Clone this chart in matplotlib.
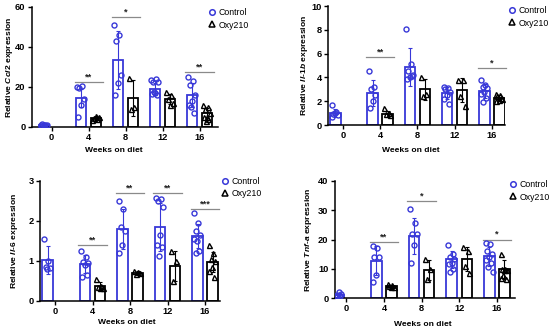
import numpy as np
import matplotlib
matplotlib.use("Agg")
import matplotlib.pyplot as plt
from matplotlib.lines import Line2D

plt.rcParams['font.family'] = ['Liberation Sans', 'DejaVu Sans']
plt.rcParams['mathtext.fontset'] = 'custom'
plt.rcParams['mathtext.it'] = 'Liberation Sans:bold:italic'
plt.rcParams['mathtext.rm'] = 'Liberation Sans:bold'
plt.rcParams['mathtext.bf'] = 'Liberation Sans:bold'

weeks = ['0', '4', '8', '12', '16']
BLUE = '#3838d8'

# ---- Ccl2 ----
ccl2_ctrl_mean = [1.0, 14.5, 33.5, 19.0, 16.0]
ccl2_ctrl_sd = [0.5, 4.5, 14.5, 3.0, 6.0]
ccl2_oxy_mean = [None, 4.5, 14.5, 14.0, 7.0]
ccl2_oxy_sd = [None, 1.0, 9.0, 2.5, 2.7]
ccl2_ctrl_pts = [[0.5, 1.0, 1.5, 0.8, 1.2, 1.0],
                 [20.0, 20.5, 19.5, 14.0, 11.0, 5.0],
                 [51.0, 46.0, 43.0, 26.0, 22.0, 16.0],
                 [23.5, 24.0, 22.5, 22.7, 17.0, 16.5, 16.0, 17.5],
                 [25.0, 23.0, 21.0, 16.0, 13.0, 11.0, 7.0, 10.0]]
ccl2_oxy_pts = [[],
                [3.5, 4.0, 4.5, 5.0, 5.5],
                [24.5, 10.0, 9.0],
                [17.5, 16.0, 14.0, 12.0, 11.0],
                [11.0, 10.0, 9.0, 7.0, 5.0, 5.0, 4.0, 3.0]]
ccl2_sig = [(1, 22.5, '**'), (2, 55.0, '*'), (4, 27.5, '**')]

# ---- Il-1b ----
il1b_ctrl_mean = [1.0, 2.7, 4.9, 2.7, 2.85]
il1b_ctrl_sd = [0.35, 1.1, 1.6, 0.5, 0.6]
il1b_oxy_mean = [None, 0.95, 3.0, 2.95, 2.3]
il1b_oxy_sd = [None, 0.25, 0.9, 1.0, 0.25]
il1b_ctrl_pts = [[1.7, 1.1, 0.9, 0.8, 1.0, 0.7],
                 [4.5, 3.2, 3.0, 2.5, 2.0, 1.4],
                 [8.1, 5.1, 4.5, 4.2, 4.0, 3.9, 4.1],
                 [3.2, 3.1, 3.0, 2.8, 2.5, 2.2, 1.8],
                 [3.8, 3.4, 3.2, 3.1, 2.8, 2.6, 2.3, 1.9]]
il1b_oxy_pts = [[],
                [1.4, 1.0, 0.9, 0.8],
                [4.0, 2.6, 2.4],
                [3.8, 3.8, 2.4, 1.6],
                [2.6, 2.5, 2.4, 2.2, 2.1, 2.0, 2.3]]
il1b_sig = [(1, 5.7, '**'), (4, 4.8, '*')]

# ---- Il-6 ----
il6_ctrl_mean = [1.03, 0.92, 1.8, 1.85, 1.62]
il6_ctrl_sd = [0.35, 0.22, 0.5, 0.6, 0.3]
il6_oxy_mean = [None, 0.38, 0.7, 0.87, 0.98]
il6_oxy_sd = [None, 0.1, 0.04, 0.37, 0.25]
il6_ctrl_pts = [[1.55, 1.0, 0.85, 0.82, 0.8],
                [1.25, 1.1, 0.98, 0.95, 0.9, 0.6, 0.65],
                [2.5, 2.3, 1.85, 1.75, 1.4, 1.2],
                [2.58, 2.55, 2.5, 2.35, 1.65, 1.4, 1.35, 1.12],
                [2.2, 1.95, 1.75, 1.65, 1.5, 1.55, 1.25, 1.2]]
il6_oxy_pts = [[],
               [0.55, 0.38, 0.35, 0.33, 0.32],
               [0.75, 0.72, 0.68, 0.7],
               [1.25, 1.0, 0.5],
               [1.4, 1.2, 1.05, 1.0, 0.85, 0.75, 0.6]]
il6_sig = [(1, 1.4, '**'), (2, 2.7, '**'), (3, 2.7, '**'), (4, 2.3, '***')]

# ---- Tnf-a ----
tnf_ctrl_mean = [1.0, 12.7, 21.3, 13.2, 14.3]
tnf_ctrl_sd = [0.6, 5.0, 6.1, 2.8, 3.3]
tnf_oxy_mean = [None, 4.0, 9.6, 13.3, 9.8]
tnf_oxy_sd = [None, 0.5, 3.5, 4.0, 3.2]
tnf_ctrl_pts = [[0.3, 0.6, 1.0, 1.5, 2.0, 0.8],
                [17.7, 17.0, 14.0, 14.0, 8.0, 5.5],
                [30.5, 25.5, 22.0, 22.0, 18.0, 12.0],
                [18.0, 15.0, 14.0, 13.5, 12.0, 11.5, 10.0, 9.0],
                [18.8, 18.5, 16.0, 15.0, 14.0, 13.0, 12.0, 10.5, 9.0]]
tnf_oxy_pts = [[],
               [4.8, 4.5, 4.2, 3.9, 3.7],
               [13.5, 10.0, 6.5],
               [17.5, 16.0, 11.0, 8.5],
               [15.0, 10.0, 10.0, 9.5, 9.5, 7.0, 6.5, 8.0]]
tnf_sig = [(1, 19.0, '**'), (2, 33.0, '*'), (4, 20.0, '*')]

W = 550; H = 331
fig = plt.figure(figsize=(W / 100, H / 100), dpi=100)

def px_ax(l, r, b, t):
    return fig.add_axes([l / W, 1 - b / H, (r - l) / W, (b - t) / H])

OFF = 0.2
BW = 0.28
FS_TICK = 6.7
FS_LAB = 6.1
FS_LEG = 6.3

def jitter(n):
    return np.array([((i * 0.618) % 1 - 0.5) * 0.2 for i in range(n)])

def panel(ax, box, cm, cs, om, osd, cp, op, sig, ymax, ystep, xlim, gene, ylab_px, xlab_px):
    l, r, b, t = box
    x = np.arange(len(weeks))
    for i in range(len(weeks)):
        xc = x[i] - OFF
        ax.bar(xc, cm[i], width=BW, facecolor='white', edgecolor=BLUE, linewidth=1.3, zorder=2)
        ax.errorbar(xc, cm[i], yerr=cs[i], color=BLUE, capsize=1.6, elinewidth=0.8, capthick=0.8, zorder=3)
        pts = np.array(cp[i])
        ax.plot(xc + jitter(len(pts)), pts, 'o', mfc='none', mec=BLUE, ms=3.6, mew=1.0, zorder=4)
        if om[i] is not None:
            xo = x[i] + OFF
            ax.bar(xo, om[i], width=BW, facecolor='white', edgecolor='black', linewidth=1.3, zorder=2)
            ax.errorbar(xo, om[i], yerr=osd[i], color='black', capsize=1.6, elinewidth=0.8, capthick=0.8, zorder=3)
            pts = np.array(op[i])
            ax.plot(xo + jitter(len(pts)), pts, '^', mfc='none', mec='black', ms=3.6, mew=1.0, zorder=4)
    for g, yv, s in sig:
        ax.plot([g - 0.38, g + 0.38], [yv, yv], color='#8a8a8a', lw=0.9, zorder=1, clip_on=False)
        ax.text(g, yv + ymax * 0.005, s, ha='center', va='bottom', fontsize=FS_TICK, fontweight='bold', color='#222222')
    ax.set_xlim(*xlim)
    ax.set_ylim(0, ymax)
    ax.set_yticks(np.arange(0, ymax + ystep / 2, ystep))
    ax.set_xticks(x)
    ax.set_xticklabels(weeks)
    for sp in ['top', 'right']:
        ax.spines[sp].set_visible(False)
    for sp in ['left', 'bottom']:
        ax.spines[sp].set_linewidth(1.1)
    ax.tick_params(axis='both', labelsize=FS_TICK, width=1.0, length=2.8, pad=1.8)
    for lab in ax.get_xticklabels() + ax.get_yticklabels():
        lab.set_fontweight('bold')
    ax.set_xlabel('Weeks on diet', fontsize=FS_LAB, fontweight='bold')
    ax.xaxis.set_label_coords((xlab_px[0] - l) / (r - l), -(xlab_px[1] - b) / (b - t))
    ax.xaxis.label.set_va('center')
    ax.set_ylabel(gene, fontsize=FS_LAB, fontweight='bold')
    ax.yaxis.set_label_coords((ylab_px - l) / (r - l), 0.5)
    ax.yaxis.label.set_va('center')

def legend(xm, y1):
    handles = [Line2D([], [], marker='o', ls='none', mfc='none', mec=BLUE, ms=4.0, mew=1.1),
               Line2D([], [], marker='^', ls='none', mfc='none', mec='black', ms=4.2, mew=1.1)]
    fig.legend(handles, ['Control', 'Oxy210'], loc='upper left',
               bbox_to_anchor=((xm - 5) / W, 1 - (y1 - 6) / H),
               frameon=False, fontsize=FS_LEG, handlelength=0.8, handletextpad=0.45,
               labelspacing=0.4, borderaxespad=0, borderpad=0)

box1 = (32, 218, 127, 7)
ax1 = px_ax(*box1)
panel(ax1, box1, ccl2_ctrl_mean, ccl2_ctrl_sd, ccl2_oxy_mean, ccl2_oxy_sd, ccl2_ctrl_pts, ccl2_oxy_pts,
      ccl2_sig, 60, 20, (-0.53, 4.5), r'Relative $\mathit{Ccl2}$ expression', 10, (114, 150))
legend(213, 14)

box2 = (328, 505, 125, 6)
ax2 = px_ax(*box2)
panel(ax2, box2, il1b_ctrl_mean, il1b_ctrl_sd, il1b_oxy_mean, il1b_oxy_sd, il1b_ctrl_pts, il1b_oxy_pts,
      il1b_sig, 10, 2, (-0.4, 4.35), r'Relative $\mathit{Il}$-$\mathit{1b}$ expression', 305, (411, 150))
legend(513, 12)

box3 = (40, 220, 301, 181)
ax3 = px_ax(*box3)
panel(ax3, box3, il6_ctrl_mean, il6_ctrl_sd, il6_oxy_mean, il6_oxy_sd, il6_ctrl_pts, il6_oxy_pts,
      il6_sig, 3, 1, (-0.4, 4.4), r'Relative $\mathit{Il}$-$\mathit{6}$ expression', 15, (127, 323))
legend(226, 183)

box4 = (335, 515, 298, 181)
ax4 = px_ax(*box4)
panel(ax4, box4, tnf_ctrl_mean, tnf_ctrl_sd, tnf_oxy_mean, tnf_oxy_sd, tnf_ctrl_pts, tnf_oxy_pts,
      tnf_sig, 40, 10, (-0.3, 4.48), r'Relative $\mathit{Tnf}$-$\mathit{a}$ expression', 308, (423, 325))
legend(514, 186)

fig.savefig('out.png', dpi=100)
